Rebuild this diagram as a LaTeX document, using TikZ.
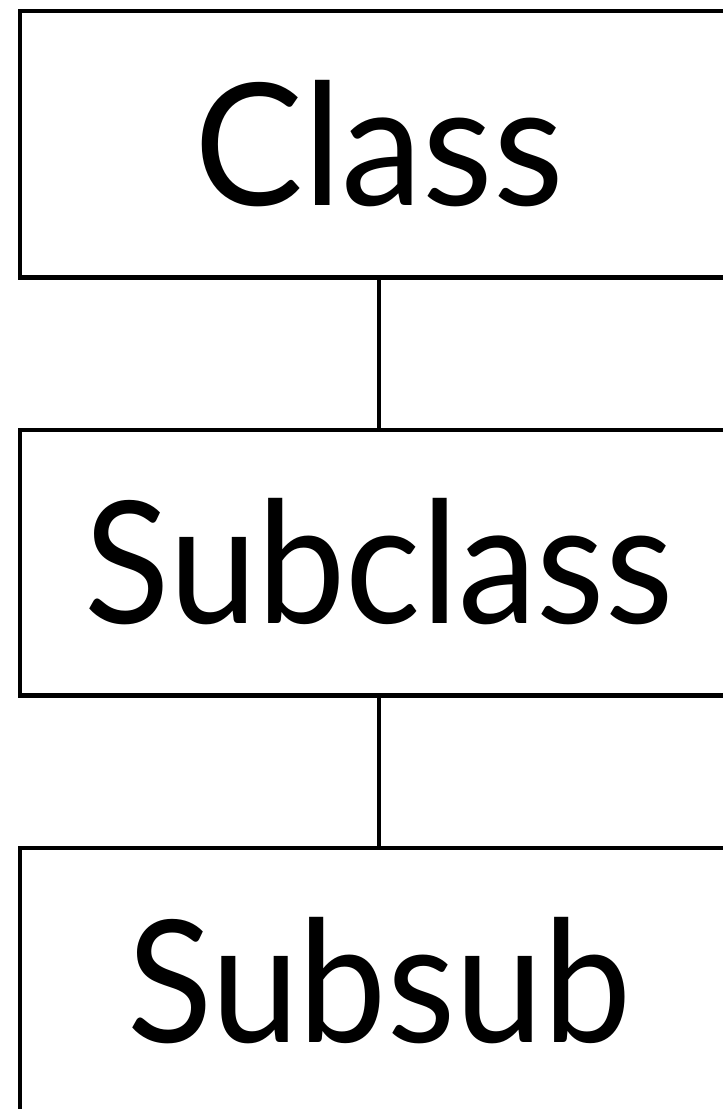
\documentclass[tikz,border=0pt]{standalone}
\usepackage{fontspec}
\setmainfont{Lato}
\newlength\wordwd
\newcommand\fitword[2]{\settowidth\wordwd{#2}\pgfmathsetmacro\wordsx{#1/\wordwd}\scalebox{\wordsx}[1]{#2}}
\tikzset{
  umlbox/.style={draw, rectangle, line width=4.5pt, minimum width=718pt,
    inner sep=0pt, text height=122pt, text depth=0pt,
    font=\fontsize{170}{170}\selectfont},
  link/.style={line width=4.5pt}
}
\begin{document}
\begin{tikzpicture}[x=1pt,y=-1pt]
  \useasboundingbox (0,0) rectangle (723,1109);
  \node[umlbox, minimum height=266.5pt] (cls) at (379,144) {\fitword{370}{Class}};
  \node[umlbox, minimum height=265.5pt] (sub) at (379,562.7) {\fitword{588}{Subclass}};
  \node[umlbox, minimum height=266pt] (subsub) at (379,981) {\fitword{504}{Subsub}};
  \draw[link] (cls) -- (sub);
  \draw[link] (sub) -- (subsub);
\end{tikzpicture}
\end{document}
